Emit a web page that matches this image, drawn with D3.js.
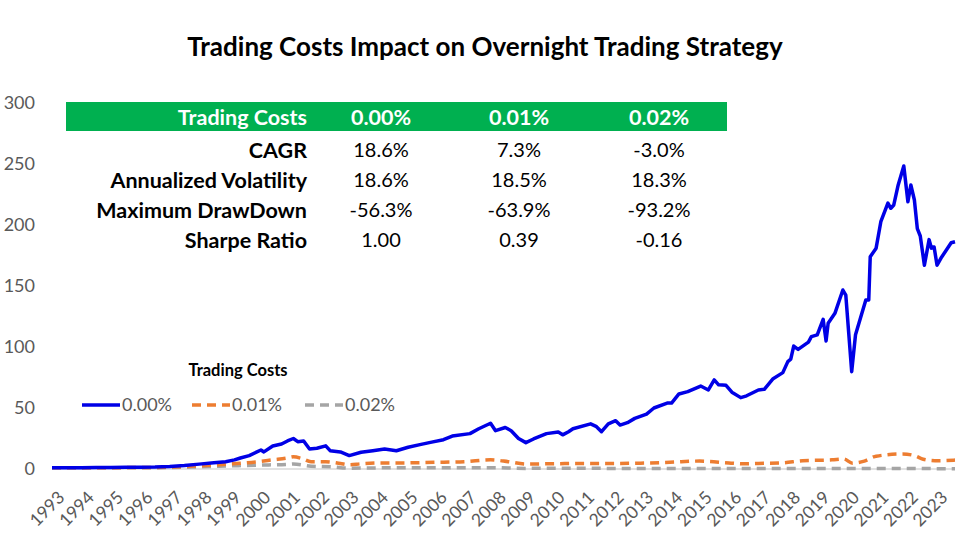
<!DOCTYPE html>
<html>
<head>
<meta charset="utf-8">
<script src="https://cdn.jsdelivr.net/npm/d3@7"></script>
<style>
  html, body { margin: 0; padding: 0; background: #fff; }
  svg { display: block; font-family: Lato, "Open Sans", sans-serif; }
</style>
</head>
<body>
<svg id="chart" width="980" height="551"></svg>
<script>
// ── Data ──────────────────────────────────────────────────────────────────────
var yearTicks = d3.range(1993, 2024);
var valueTicks = [0, 50, 100, 150, 200, 250, 300];

var blueYears = [1993.0, 1993.5, 1994.0, 1994.5, 1995.0, 1995.5, 1996.0, 1996.5, 1997.0, 1997.5,
  1998.0, 1998.5, 1998.9, 1999.2, 1999.4, 1999.7, 2000.1, 2000.2, 2000.5, 2000.8,
  2001.0, 2001.2, 2001.35, 2001.55, 2001.75, 2002.0, 2002.3, 2002.45, 2002.8, 2003.1,
  2003.5, 2003.9, 2004.3, 2004.7, 2005.1, 2005.5, 2005.9, 2006.3, 2006.6, 2007.2,
  2007.5, 2007.9, 2008.07, 2008.4, 2008.6, 2008.85, 2009.1, 2009.36, 2009.8, 2010.2,
  2010.35, 2010.55, 2010.7, 2011.3, 2011.5, 2011.67, 2011.9, 2012.15, 2012.3, 2012.55,
  2012.8, 2013.2, 2013.45, 2013.9, 2014.05, 2014.3, 2014.6, 2015.04, 2015.3, 2015.5,
  2015.65, 2015.9, 2016.1, 2016.4, 2016.6, 2017.0, 2017.2, 2017.5, 2017.83, 2018.0,
  2018.1, 2018.2, 2018.35, 2018.7, 2018.8, 2019.0, 2019.2, 2019.3, 2019.37, 2019.6,
  2019.87, 2019.97, 2020.17, 2020.3, 2020.65, 2020.75, 2020.8, 2021.0, 2021.16, 2021.4,
  2021.5, 2021.6, 2021.75, 2021.94, 2022.08, 2022.18, 2022.3, 2022.4, 2022.5, 2022.64,
  2022.8, 2022.88, 2022.97, 2023.07, 2023.2, 2023.55, 2023.68];
var blueValues = [1.0, 1.1, 1.1, 1.2, 1.2, 1.4, 1.5, 1.6, 2.0, 2.8,
  4.0, 5.2, 6.0, 7.5, 9.0, 11, 15.6, 14, 18.9, 20.5,
  23, 25, 22.4, 23, 16.4, 17, 19, 15, 14, 11,
  13.7, 15, 16.4, 15, 17.8, 20, 22, 24, 27, 29,
  33, 37.5, 31.4, 34, 31.4, 25, 21.6, 24.6, 29, 30.3,
  28, 30.6, 33, 37, 34.7, 30.6, 37, 39.6, 36, 38,
  41.5, 45, 50, 54, 54, 61.5, 63.4, 68, 64.8, 73,
  69, 68.6, 63, 58.5, 60, 64.8, 65.3, 74, 79, 88,
  90, 100.8, 98, 104, 108.5, 110, 122.7, 105, 119.4, 127.6,
  146.7, 142.6, 79.8, 110, 138.5, 138.5, 174, 181, 202.7, 218,
  213.7, 216.4, 232.8, 248.4, 219, 232.8, 220.5, 197, 191, 167,
  188, 181, 182, 167, 172.7, 185.5, 186.3];

var orangeYears = [1993, 1995, 1996, 1997, 1998, 1999, 2000, 2000.5, 2001.0, 2001.2,
  2001.5, 2001.8, 2002.3, 2002.8, 2003.1, 2003.5, 2004.3, 2005, 2006, 2007,
  2007.9, 2008.5, 2009.1, 2010, 2011, 2012, 2013, 2014, 2015, 2016,
  2016.5, 2017, 2017.8, 2018.5, 2019.5, 2019.9, 2020.2, 2020.6, 2021, 2021.9,
  2022.3, 2022.6, 2023, 2023.68];
var orangeValues = [1.0, 1.1, 1.2, 1.5, 2.5, 4, 6, 7.5, 9, 10,
  8.5, 6, 6, 4.5, 3.5, 4.3, 5, 5, 5.5, 6,
  7.5, 6, 4, 4.3, 4.6, 4.5, 4.8, 5.5, 6.5, 5,
  4.3, 4.6, 5, 6.8, 7.5, 8.2, 4.8, 6.5, 10.5, 12.3,
  11, 8, 6.8, 7.3];

var grayYears = [1993, 1995, 1996, 1997, 1998, 1999, 2000, 2001.0, 2001.2, 2001.8,
  2002.5, 2003.1, 2004, 2005, 2006, 2007, 2007.9, 2009.1, 2010, 2011,
  2012, 2013, 2014, 2015, 2016, 2017, 2018, 2019, 2020, 2021,
  2022, 2023, 2023.68];
var grayValues = [1.0, 1.0, 1.0, 1.2, 1.8, 2.5, 3.2, 3.8, 4.2, 2.3,
  1.8, 0.7, 0.9, 1.0, 1.0, 1.0, 1.1, 0.5, 0.6, 0.6,
  0.5, 0.5, 0.5, 0.5, 0.4, 0.4, 0.4, 0.4, 0.4, 0.5,
  0.5, 0.3, 0.3];

var costLabels = ['0.00%', '0.01%', '0.02%'];
var metricLabels = ['CAGR', 'Annualized Volatility', 'Maximum DrawDown', 'Sharpe Ratio'];
var metricValues = [
  ['18.6%', '7.3%', '-3.0%'],
  ['18.6%', '18.5%', '18.3%'],
  ['-56.3%', '-63.9%', '-93.2%'],
  ['1.00', '0.39', '-0.16']
];

// ── Chart ─────────────────────────────────────────────────────────────────────
(function () {
  'use strict';

  var svg = d3.select('#chart');
  var x = d3.scaleLinear().domain([1993, 2023.68]).range([52, 955]);
  var y = d3.scaleLinear().domain([0, 300]).range([469, 103]);

  function pairs(xs, vs) { return xs.map(function (t, i) { return [t, vs[i]]; }); }
  var line = d3.line().x(function (d) { return x(d[0]); }).y(function (d) { return y(d[1]); });

  // Title
  svg.append('text')
    .attr('x', 485).attr('y', 56)
    .attr('text-anchor', 'middle')
    .attr('font-size', 26).attr('font-weight', 700).attr('fill', '#000')
    .text('Trading Costs Impact on Overnight Trading Strategy');

  // Y tick labels
  svg.append('g').selectAll('text')
    .data(valueTicks)
    .join('text')
    .attr('x', 35).attr('y', function (d) { return y(d); })
    .attr('dy', '0.35em')
    .attr('text-anchor', 'end')
    .attr('font-size', 18).attr('fill', '#595959')
    .text(function (d) { return d; });

  // X axis line
  svg.append('line')
    .attr('x1', x(1993)).attr('x2', x(2023.68))
    .attr('y1', y(0)).attr('y2', y(0))
    .attr('stroke', '#d9d9d9').attr('stroke-width', 1.5);

  // X tick labels (rotated)
  svg.append('g').selectAll('text')
    .data(yearTicks)
    .join('text')
    .attr('transform', function (d) { return 'translate(' + (x(d) + 5) + ',' + 490 + ') rotate(-45)'; })
    .attr('text-anchor', 'end')
    .attr('dy', '0.7em')
    .attr('font-size', 17.5).attr('fill', '#595959')
    .text(function (d) { return d; });

  // Series
  svg.append('path')
    .attr('d', line.curve(d3.curveMonotoneX)(pairs(grayYears, grayValues)))
    .attr('fill', 'none').attr('stroke', '#a5a5a5')
    .attr('stroke-width', 3.5).attr('stroke-dasharray', '9,6');
  svg.append('path')
    .attr('d', line.curve(d3.curveMonotoneX)(pairs(orangeYears, orangeValues)))
    .attr('fill', 'none').attr('stroke', '#ed7d31')
    .attr('stroke-width', 3.5).attr('stroke-dasharray', '9,6');
  svg.append('path')
    .attr('d', line.curve(d3.curveLinear)(pairs(blueYears, blueValues)))
    .attr('fill', 'none').attr('stroke', '#0000e6')
    .attr('stroke-width', 3.5).attr('stroke-linejoin', 'round');

  // Legend
  var legend = svg.append('g');
  legend.append('text')
    .attr('x', 238).attr('y', 376)
    .attr('text-anchor', 'middle')
    .attr('font-size', 16.5).attr('font-weight', 700).attr('fill', '#000')
    .text('Trading Costs');
  var legendItems = [
    { label: costLabels[0], color: '#0000e6', dash: null, x0: 82 },
    { label: costLabels[1], color: '#ed7d31', dash: '9,6', x0: 192 },
    { label: costLabels[2], color: '#a5a5a5', dash: '9,6', x0: 305 }
  ];
  legendItems.forEach(function (it) {
    legend.append('line')
      .attr('x1', it.x0).attr('x2', it.x0 + 38)
      .attr('y1', 405).attr('y2', 405)
      .attr('stroke', it.color).attr('stroke-width', 3.5)
      .attr('stroke-dasharray', it.dash);
    legend.append('text')
      .attr('x', it.x0 + 40).attr('y', 405).attr('dy', '0.35em')
      .attr('font-size', 18).attr('fill', '#595959')
      .text(it.label);
  });

  // Stats table
  var colX = [381, 519, 659];
  var labelX = 307;
  var table = svg.append('g');
  table.append('rect')
    .attr('x', 66).attr('y', 102).attr('width', 661).attr('height', 29)
    .attr('fill', '#00b050');
  table.append('text')
    .attr('x', labelX).attr('y', 117).attr('dy', '0.35em')
    .attr('text-anchor', 'end').attr('font-size', 21.5).attr('font-weight', 700)
    .attr('fill', '#fff').text('Trading Costs');
  table.selectAll('text.hdr')
    .data(costLabels)
    .join('text').attr('class', 'hdr')
    .attr('x', function (d, i) { return colX[i]; }).attr('y', 117).attr('dy', '0.35em')
    .attr('text-anchor', 'middle').attr('font-size', 21.5).attr('font-weight', 700)
    .attr('fill', '#fff').text(function (d) { return d; });

  metricLabels.forEach(function (m, r) {
    var ry = 150 + r * 30;
    table.append('text')
      .attr('x', labelX).attr('y', ry).attr('dy', '0.35em')
      .attr('text-anchor', 'end').attr('font-size', 21.5).attr('font-weight', 700)
      .attr('fill', '#000').text(m);
    metricValues[r].forEach(function (v, c) {
      table.append('text')
        .attr('x', colX[c]).attr('y', ry).attr('dy', '0.35em')
        .attr('text-anchor', 'middle').attr('font-size', 20)
        .attr('fill', '#000').text(v);
    });
  });
})();
</script>
</body>
</html>
